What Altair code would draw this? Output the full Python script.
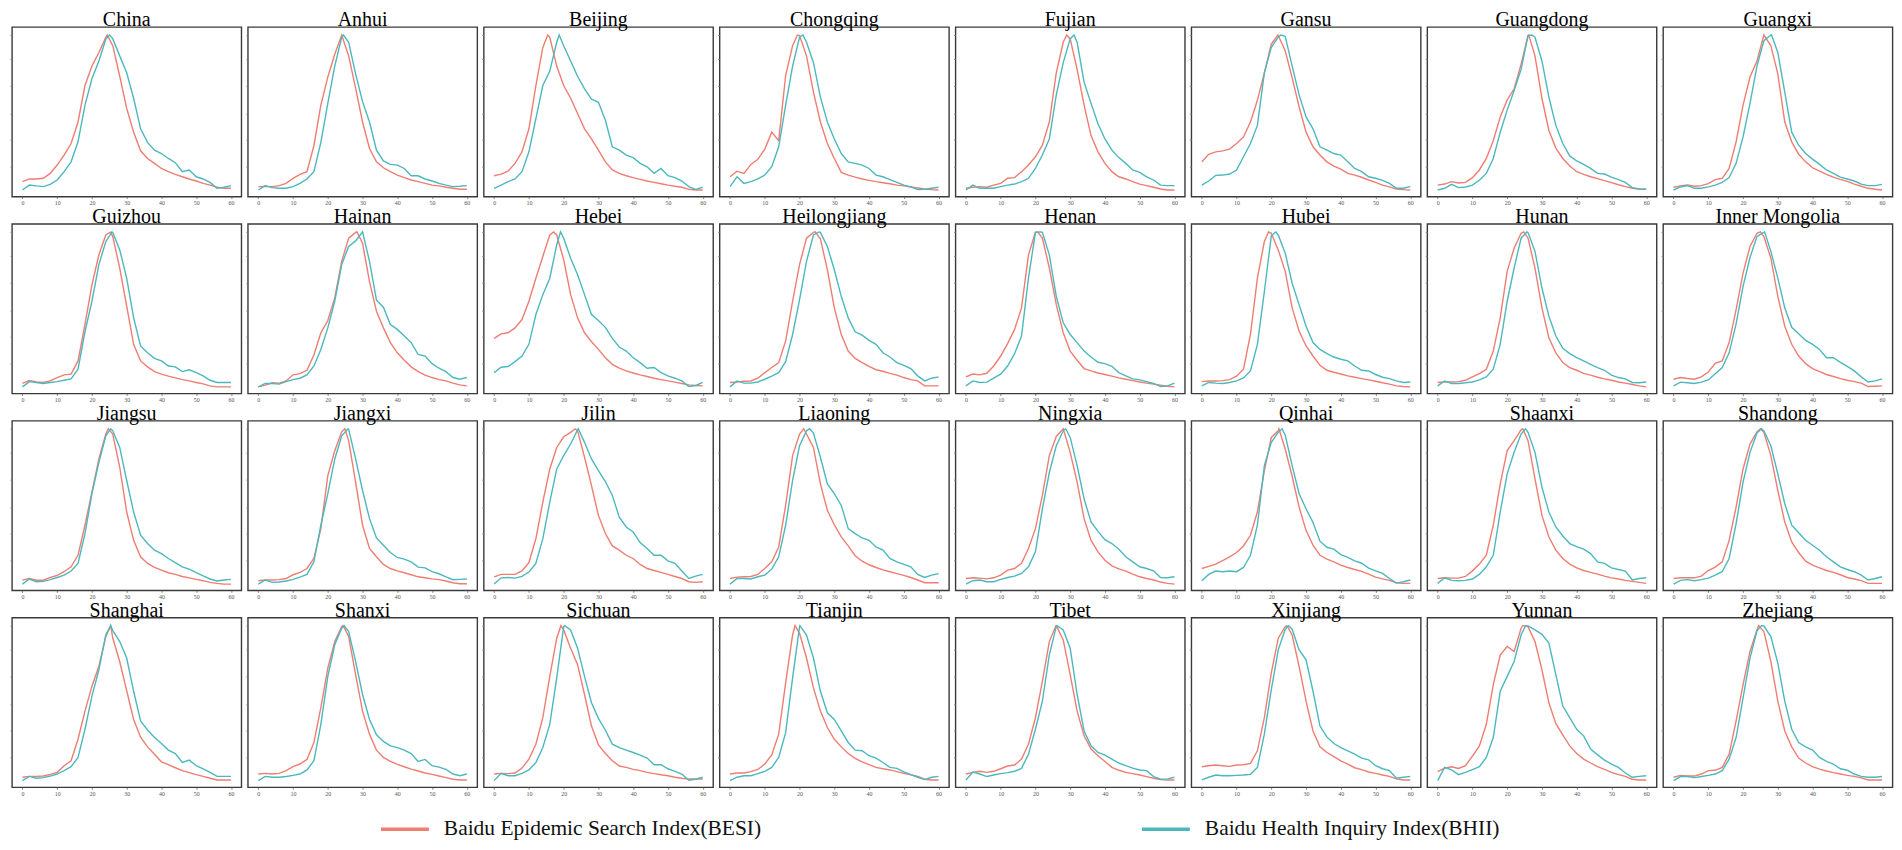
import altair as alt
import pandas as pd

# ---------------- data ----------------
# values are in % of each panel's vertical range; day 0..60 every 2 days
DAYS = list(range(0, 61, 2))
X_TICKS = [0, 10, 20, 30, 40, 50, 60]
Y_TICKS = [17.6, 33.5, 49, 65, 81, 95.3]
PEAK_VALUE = 95.3

BESI_NAME = "Baidu Epidemic Search Index(BESI)"
BHII_NAME = "Baidu Health Inquiry Index(BHII)"
COLORS = ["#EE7D72", "#4BB8BE"]

REGIONS = ["China", "Anhui", "Beijing", "Chongqing", "Fujian", "Gansu", "Guangdong", "Guangxi",
           "Guizhou", "Hainan", "Hebei", "Heilongjiang", "Henan", "Hubei", "Hunan", "Inner Mongolia",
           "Jiangsu", "Jiangxi", "Jilin", "Liaoning", "Ningxia", "Qinhai", "Shaanxi", "Shandong",
           "Shanghai", "Shanxi", "Sichuan", "Tianjin", "Tibet", "Xinjiang", "Yunnan", "Zhejiang"]

BESI_PEAK_DAY = [24.4, 24, 15.4, 19.4, 29, 21.9, 26.2, 26,
                 25.4, 28.4, 17.1, 24.5, 20.6, 19.2, 24.8, 25,
                 24.7, 24.9, 23.3, 21.2, 28, 22.2, 24.5, 25,
                 25.4, 24.4, 19.2, 18.7, 25.9, 24.5, 24.5, 24.5]
BHII_PEAK_DAY = [25.1, 24.5, 18.7, 21, 31.1, 22.8, 27.1, 28.2,
                 25.8, 30, 19.1, 25.6, 21.5, 21.3, 25.7, 26.2,
                 25.4, 25.8, 24.2, 22.9, 28.7, 23.1, 25.3, 25.3,
                 25.4, 24.7, 20.3, 20.1, 26.2, 25, 25.3, 25.3]

CHINA_BESI = [8.8, 10.4, 10.4, 10.8, 13.7, 18.6, 24.5, 31.3, 44, 65.5, 77, 85, 94, 89, 71, 52, 38, 27, 22.5, 19.6, 16.6, 14.7, 13.1, 11.7, 10.4, 9.2, 7.8, 6.8, 5.5, 4.9, 4.9]
CHINA_BHII = [3.9, 6.8, 6.3, 5.9, 7.2, 9.8, 14.7, 20.5, 32.3, 54, 69.5, 80, 93, 93, 83, 73, 58, 40, 32, 27.4, 25.4, 22.5, 20, 14.7, 15.7, 11.7, 10.4, 8.4, 4.9, 5.5, 6.5]
ANHUI_BESI = [5.9, 5.9, 5.9, 6.5, 7.8, 10.8, 13.1, 14.7, 30, 54, 70.5, 84, 95.3, 83, 64, 44, 28.4, 20.5, 17, 14.7, 12.7, 11.2, 9.8, 8.8, 7.8, 6.8, 6.3, 5.5, 4.9, 4.3, 4.3]
ANHUI_BHII = [3.9, 6.5, 5.3, 4.9, 4.9, 5.9, 7.8, 10.4, 14.7, 32, 55, 77, 94, 91, 72.4, 56, 44, 27.4, 21, 19, 18.6, 16.6, 12.3, 12.3, 10.4, 9.2, 7.8, 6.8, 5.9, 6.1, 6.5]
BEIJING_BESI = [12.3, 13.3, 15, 19.6, 26.4, 40, 65.5, 88, 94, 77, 65.5, 58, 49, 40, 34, 27.4, 20.5, 15.7, 13.7, 12.3, 11.2, 10.2, 9.2, 8.4, 7.6, 6.8, 6.1, 5.5, 4.3, 3.9, 3.9]
BEIJING_BHII = [4.9, 6.8, 8.8, 10.4, 14.7, 26.4, 46, 65.5, 74, 91, 89, 80, 71, 63.6, 57.5, 55.6, 45, 29.4, 27.4, 24.5, 23, 19.6, 17.6, 13.7, 16.6, 12.3, 11.2, 9.2, 5.9, 4.3, 5.5]
CHONGQING_BESI = [11.7, 15, 13.7, 19, 22, 28, 38, 33, 71.4, 89, 95, 83, 61.6, 44, 31.3, 22.5, 14.3, 12.7, 11.5, 10.4, 9.6, 8.8, 8.2, 7.6, 6.8, 6.3, 5.7, 5.1, 4.5, 4.1, 3.9]
CHONGQING_BHII = [5.9, 11.7, 7.8, 8.8, 10.4, 12.7, 17.6, 29.4, 54, 77, 94, 91, 79, 58.7, 44, 34, 25.4, 20.5, 19.6, 18.6, 16.6, 12.7, 11.7, 10, 8.4, 6.8, 5.7, 4.1, 4.3, 4.9, 5.5]
FUJIAN_BESI = [4.9, 5.5, 5.9, 5.5, 6.8, 7.8, 10.8, 11.2, 14.7, 18.6, 23.5, 30.3, 44, 73, 91, 93, 75, 54, 36, 26.4, 19.6, 14.7, 11.7, 10.4, 8.8, 7.4, 6.5, 5.5, 4.5, 3.9, 3.9]
FUJIAN_BHII = [3.9, 6.8, 4.9, 4.9, 4.9, 5.9, 6.8, 7.4, 8.8, 10.8, 16.6, 24.5, 34, 60, 79, 93, 91, 67.5, 55, 43, 34, 27.4, 23, 19.6, 15.7, 14.3, 11.7, 9.8, 6.8, 6.5, 6.5]
GANSU_BESI = [20.5, 24.9, 26.4, 27, 28, 31.3, 35.2, 44, 56.8, 73, 90, 95, 86, 70, 53, 38, 29.4, 24.5, 20.5, 18, 16.2, 13.7, 12.7, 11.4, 9.8, 8.4, 6.8, 5.7, 4.5, 4.1, 3.9]
GANSU_BHII = [6.8, 9.2, 12.5, 12.7, 13.3, 15.7, 23.5, 31.3, 42, 73, 88, 94, 94.6, 77, 60, 47, 40, 29.4, 27.4, 25.4, 24.5, 20.5, 16.6, 14.7, 11.7, 10.8, 9.6, 7.8, 4.9, 4.9, 5.9]
GUANGDONG_BESI = [6.8, 7.4, 8.8, 8, 8.4, 11.2, 15.7, 22.5, 33, 47, 57, 63.6, 78, 95, 83, 58, 39, 28.6, 22.5, 18, 14.7, 13.1, 11.7, 10.6, 9.4, 8.2, 7, 5.9, 4.9, 4.5, 4.3]
GUANGDONG_BHII = [3.9, 4.9, 7.2, 5.3, 5.7, 6.8, 9.6, 13.7, 22.5, 38, 51, 62.6, 75, 95, 94, 80, 58.7, 42, 31.3, 24, 21, 19, 16.6, 13.7, 13.3, 11.5, 10, 8.4, 5.3, 4.5, 4.3]
GUANGXI_BESI = [5.5, 6.3, 6.8, 6.1, 6.5, 7.6, 10, 10.8, 16.6, 32.3, 54, 70.5, 80, 95, 89, 72.4, 44, 32.3, 25, 20.5, 17, 15, 13.1, 11.5, 10.2, 9, 7.4, 6.1, 4.9, 4.3, 3.9]
GUANGXI_BHII = [3.9, 5.7, 6.5, 4.9, 4.9, 5.7, 6.8, 8.4, 11.2, 19.6, 35.2, 55, 77, 92, 95.3, 85, 61.6, 38, 30.3, 25.4, 22.1, 19, 15.7, 13.7, 11.5, 10.4, 9.2, 7.4, 6.5, 6.5, 7.2]
GUIZHOU_BESI = [5.9, 7.6, 6.8, 6.5, 7.4, 9.4, 11, 11.4, 19.2, 40.7, 64, 81.8, 93.5, 92.5, 74, 51.5, 29, 19.2, 15.7, 12.9, 11.4, 10.2, 9.2, 8.2, 7.4, 6.5, 5.7, 4.5, 3.9, 3.9, 3.9]
GUIZHOU_BHII = [3.9, 7, 6.5, 5.9, 6.5, 7, 7.8, 8.6, 14.3, 36.4, 54.4, 76, 89.6, 95, 84.7, 68, 44.6, 28, 24, 20.7, 19.2, 16.2, 15.7, 12.9, 14, 12.3, 10.4, 7.8, 6.5, 6.5, 6.5]
HAINAN_BESI = [3.9, 4.9, 6.3, 6.1, 7.4, 11, 11.7, 13.7, 22.7, 35.8, 43, 56.4, 77.9, 91.6, 95, 88.6, 66, 48.5, 38.7, 30, 24, 19.6, 15.7, 12.9, 10.8, 9.4, 8.2, 7.4, 6.1, 5.1, 4.5]
HAINAN_BHII = [3.9, 5.9, 5.9, 5.5, 7, 8.2, 9, 11, 16.2, 26, 38.7, 54.4, 76, 86.7, 90, 94.5, 77.9, 55, 50.9, 40.7, 37.8, 33.9, 30, 23, 22.1, 17.6, 14.9, 12.9, 9.4, 8.4, 9.4]
HEBEI_BESI = [32.5, 35.2, 35.8, 38.7, 43.6, 54.4, 68, 80.8, 93.5, 93.5, 78.9, 58.3, 44.6, 35.8, 30.5, 26, 21.1, 17.2, 14.9, 13.3, 12.1, 11, 10, 9, 8.2, 7.4, 6.7, 5.9, 5.1, 4.7, 4.5]
HEBEI_BHII = [12.3, 15.5, 15.9, 18.8, 22.1, 29, 46.6, 58.3, 68, 87.7, 91.6, 79.8, 70, 58.3, 46.6, 43, 39, 32.5, 27.4, 25, 21.1, 18.2, 14.9, 15.3, 12.3, 10.4, 9, 7.4, 4.1, 4.7, 6.5]
HEILONGJIANG_BESI = [6.5, 6.8, 7.2, 7.4, 9, 12.3, 15.3, 18.2, 31, 54.4, 76, 91.6, 95, 91.2, 73, 50.5, 34.8, 25, 20.7, 18.2, 16, 14, 13.1, 11.9, 10.8, 9.4, 8.2, 7.4, 4.5, 4.5, 4.5]
HEILONGJIANG_BHII = [3.9, 7.4, 6.1, 6.1, 6.8, 8.4, 10.2, 12.3, 18.8, 34.8, 55.4, 77.9, 93.5, 95, 86.7, 73, 57.3, 44.6, 36.4, 34.4, 31.3, 29, 24, 21.5, 18.2, 16.6, 14.7, 10.4, 7.4, 9, 9.8]
HENAN_BESI = [9.8, 11.5, 11, 11.9, 16.2, 22.1, 29.4, 37.8, 50.5, 81.8, 95, 91.6, 74, 52.4, 35.8, 25, 19.6, 14.7, 13.3, 12.1, 11.2, 10.2, 9.2, 8.4, 7.6, 6.8, 6.1, 5.5, 4.9, 4.3, 3.9]
HENAN_BHII = [4.5, 7.4, 6.5, 6.7, 9, 11.4, 16.2, 23.5, 33.9, 68, 95, 95, 81.8, 57.3, 41.7, 34.8, 30, 25, 21.5, 18.4, 17.6, 16, 12.3, 10.4, 8.6, 8, 7, 5.9, 4.1, 4.5, 6.1]
HUBEI_BESI = [7, 7.4, 7.4, 7.6, 8.2, 10.2, 14.3, 34.8, 68, 89.6, 94.5, 84.7, 72, 50.5, 36.8, 28, 22.1, 16.6, 13.7, 12.5, 11.5, 10.4, 9.6, 8.8, 8, 7.2, 6.3, 5.5, 4.5, 4.1, 3.9]
HUBEI_BHII = [4.5, 6.5, 6.1, 5.9, 6.5, 7.4, 9.2, 13.3, 29, 60, 93, 93.5, 82.8, 65, 52.4, 39.7, 30, 26, 23.5, 21.5, 20.2, 19.2, 16.2, 13.7, 13.3, 11.2, 9.6, 8.8, 7.4, 6.5, 6.8]
HUNAN_BESI = [6.5, 6.8, 6.8, 7, 7.8, 9.8, 11.7, 14.3, 25, 44.6, 72, 85.7, 94.5, 91.6, 74, 50.5, 32.9, 24, 18.2, 15.3, 13.7, 11.9, 10.8, 9.6, 8.6, 7.8, 6.8, 6.1, 5.3, 4.5, 3.9]
HUNAN_BHII = [4.5, 7.4, 5.9, 5.9, 6.3, 6.8, 8, 9.8, 14.3, 29, 54.4, 74, 91.6, 95, 83.8, 62.2, 45.6, 33.9, 26.6, 23.5, 21.1, 19.2, 17.2, 15.3, 13.7, 10.8, 9.4, 8.6, 6.5, 6.3, 6.8]
INNER_MONGOLIA_BESI = [8.4, 9.4, 8.8, 8.4, 9.8, 12.7, 17.8, 19.2, 30, 49.5, 71, 86.7, 94.5, 92.5, 79.8, 57.3, 39.7, 29, 22.1, 17.6, 14.7, 12.9, 11.2, 10, 8.8, 7.8, 7, 6.1, 4.1, 4.3, 4.5]
INNER_MONGOLIA_BHII = [4.5, 6.7, 6.3, 5.9, 6.7, 8, 11.7, 15.3, 24, 41.1, 63.2, 80.2, 92.6, 95, 83.8, 68, 50.5, 39, 35.2, 31.3, 29, 26, 21.1, 21.1, 18.4, 16, 13.3, 9.8, 6.8, 7.4, 8.6]
JIANGSU_BESI = [6, 7, 6, 6, 7.6, 8.8, 11, 13.9, 20.7, 38.4, 58, 77.5, 92.2, 92.2, 72.6, 46.2, 29.5, 19.8, 15.9, 13.5, 11.9, 10.4, 9.4, 8.2, 7.4, 6.5, 5.7, 4.7, 4.1, 3.7, 3.7]
JIANGSU_BHII = [3.7, 6.7, 5.1, 5.3, 6.3, 7.6, 9, 11.4, 15.9, 33.5, 57, 75.5, 91.2, 94.1, 84.3, 64.8, 46.2, 32.5, 27.6, 23.7, 21.7, 18.8, 16.4, 13.9, 12.5, 10.4, 8.6, 6.7, 5.5, 6.1, 6.5]
JIANGXI_BESI = [5.7, 6.1, 6.1, 6.3, 7, 9.2, 10.6, 12.9, 18.8, 36.4, 67.7, 82.4, 93.5, 88.3, 63.8, 38.4, 24.7, 19.8, 15.3, 12.9, 11.5, 10.4, 9.2, 8, 7.4, 6.8, 6.3, 5.5, 4.5, 3.9, 3.9]
JIANGXI_BHII = [3.7, 6.1, 4.7, 4.9, 5.5, 6.5, 7.8, 9.4, 16.8, 38.4, 57, 77.5, 91.2, 95.1, 77.5, 58.9, 42.3, 30.9, 26.6, 22.3, 19.4, 18.4, 16.8, 13.7, 13.3, 11, 9.8, 8, 6.3, 6.5, 6.7]
JILIN_BESI = [8, 9.4, 9.4, 9.4, 11.5, 16.4, 30.5, 52, 71.6, 84.3, 90.6, 93.2, 94.1, 78.5, 61.8, 44.2, 33.5, 26.2, 23.7, 20.7, 18.8, 15.3, 12.9, 11.7, 10.6, 9.4, 8.2, 7, 5.1, 4.7, 5.1]
JILIN_BHII = [3.7, 7.4, 7.6, 7.2, 8.2, 10.8, 15.9, 30.5, 52, 71.6, 79.5, 86.3, 94.7, 87.3, 77.5, 70.6, 64.2, 56, 43.2, 37.4, 34.4, 28.2, 24.7, 20.7, 20.7, 17.4, 16, 11.4, 7, 8.4, 9.4]
LIAONING_BESI = [7, 7.8, 8, 8.2, 9.4, 12.9, 16.8, 25.6, 50.1, 79.5, 92.2, 92.2, 84.3, 62.8, 47.2, 38.7, 31.5, 26.2, 20.4, 17.2, 15.1, 13.5, 12.1, 11, 9.9, 8.8, 7.6, 6.1, 4.5, 4.5, 4.5]
LIAONING_BHII = [3.7, 7, 7, 6.7, 8, 9, 12.5, 19.8, 38.4, 64.8, 85.3, 94.1, 92.8, 78.5, 62.8, 57, 50.1, 36.4, 33.5, 30.9, 29.5, 25.6, 23.7, 18.8, 16.8, 15.3, 13.9, 9.4, 7.6, 9, 9.9]
NINGXIA_BESI = [7, 7.4, 7.2, 6.8, 7.4, 9, 11.9, 12.9, 15.9, 24.7, 36.4, 56, 79.5, 90.8, 95.1, 81.4, 63.8, 42.3, 29.5, 22.7, 17.8, 14.5, 12.7, 11.4, 9.6, 8, 7, 6.1, 4.9, 4.1, 3.7]
NINGXIA_BHII = [3.7, 5.7, 6.1, 5.1, 5.1, 6.5, 7.6, 8.4, 10, 13.9, 22.7, 48.1, 69.5, 85.3, 94.1, 90.2, 73.6, 54, 40.3, 34.8, 29.9, 27.6, 24.3, 19.8, 16.8, 13.9, 12.9, 11.5, 7.6, 7.4, 8]
QINHAI_BESI = [12.9, 14.1, 15.5, 17.6, 19.8, 22.3, 26.2, 32.5, 46.2, 70.6, 90.2, 94.1, 83.4, 67.3, 49.1, 35.4, 26.6, 20.7, 18.4, 16.8, 14.9, 13.5, 12.3, 11.2, 9.6, 7.8, 6.8, 5.9, 4.5, 4.1, 4.1]
QINHAI_BHII = [5.7, 9.4, 11.4, 11, 11.4, 11, 13.5, 20.7, 38.4, 73.6, 87.3, 93.2, 91.6, 73.6, 57, 48.1, 40, 29, 25.4, 24.3, 21.1, 19.4, 17.4, 16, 13.1, 11.5, 10, 7, 4.3, 5.1, 6.1]
SHAANXI_BESI = [7, 7.4, 7.2, 7.2, 8.2, 11.5, 15.5, 20.7, 38.4, 62.8, 82.4, 88.3, 94.7, 88.3, 65.8, 44.2, 31.5, 23.7, 18.8, 15.5, 13.3, 11.7, 10.6, 9.6, 8.4, 7.4, 6.7, 5.9, 5.3, 4.7, 4.1]
SHAANXI_BHII = [4.1, 7.4, 5.9, 5.7, 5.9, 6.7, 9.4, 13.9, 20.7, 46.2, 68.7, 81.4, 92.2, 93.2, 81.4, 60.9, 46.2, 37.4, 32.1, 27.6, 25.8, 24.3, 21.7, 16.8, 15.9, 13.3, 12.3, 11.4, 6.1, 7, 7.4]
SHANDONG_BESI = [7, 7.4, 7.4, 7.4, 8.4, 11.7, 13.7, 16.8, 29.5, 49.1, 71.6, 86.3, 93.5, 93.2, 79.5, 58.9, 40.3, 28.6, 22.3, 17.2, 14.9, 13.3, 11.7, 10.6, 9.2, 7.6, 6.7, 5.7, 4.1, 4.1, 4.1]
SHANDONG_BHII = [3.7, 5.9, 6.3, 5.7, 6.3, 7.2, 9, 11, 18.8, 39.3, 63.8, 81.4, 92.8, 94.1, 85.3, 68.7, 51.1, 38.4, 34, 29.5, 26.6, 23.7, 19.8, 16.8, 13.9, 12.3, 11, 9, 6.1, 7, 8]
SHANGHAI_BESI = [5.9, 6.4, 6.4, 6.6, 7.6, 8.8, 12.7, 15.6, 28.3, 44.9, 59.6, 71.3, 89, 88, 74, 57, 40, 29.5, 23.8, 19.5, 15, 13.3, 11.5, 9.8, 8.6, 7.4, 6.4, 5.3, 4.3, 4.3, 4.3]
SHANGHAI_BHII = [3.9, 6.4, 5.3, 5.7, 6.6, 7.8, 9.8, 12.1, 17.6, 34.2, 53.7, 69.3, 90, 92.4, 85.9, 76.2, 56.6, 39.1, 33.8, 29.3, 25.8, 21.9, 19.9, 14.6, 16, 12.7, 10.9, 8.8, 6.4, 6.4, 6.4]
SHANXI_BESI = [7.8, 8.2, 7.8, 8.2, 9.8, 12.1, 13.7, 16.4, 26.4, 46.9, 70.3, 85.9, 94.7, 88.9, 66.4, 44.9, 31.3, 21.9, 17.6, 15.2, 13.5, 12.1, 10.7, 9.6, 8.4, 7.6, 6.6, 5.7, 4.7, 4.3, 4.3]
SHANXI_BHII = [3.9, 6.4, 5.9, 5.9, 6.3, 7, 7.8, 10.2, 15.6, 37.1, 65.4, 84, 93.8, 91.8, 74.2, 54.7, 40, 30.9, 27, 24.4, 23.4, 21.9, 19.9, 15.2, 16.4, 12.7, 11.9, 10.5, 7.8, 6.8, 7.8]
SICHUAN_BESI = [7.8, 8.2, 8, 8.4, 11.3, 16.6, 25.4, 41, 65.4, 87.9, 92.8, 82, 72.3, 54.7, 36.1, 25, 19.9, 15.6, 12.5, 11.7, 10.5, 9.8, 8.8, 8, 7.4, 6.8, 5.9, 5.3, 4.9, 4.9, 4.9]
SICHUAN_BHII = [3.9, 8.2, 6.8, 6.8, 8.2, 10.2, 14.6, 23.4, 37.1, 64.5, 94.7, 92.8, 82, 65.4, 49.8, 40.6, 33.6, 25.4, 23.4, 21.9, 20.5, 18.9, 17.2, 13.3, 13.3, 10.9, 9.4, 7.8, 4.1, 4.7, 5.9]
TIANJIN_BESI = [7.8, 8.4, 8.4, 9.2, 10.5, 13.7, 19.1, 31.3, 61.5, 89.8, 90.8, 76.2, 58.6, 44.9, 35.2, 28.3, 23.8, 19.9, 17, 15, 13.3, 11.7, 10.9, 10.2, 9.2, 8.2, 7.4, 6.4, 4.7, 4.3, 4.3]
TIANJIN_BHII = [3.9, 5.9, 6.8, 6.8, 8, 9.4, 11.7, 17.6, 32.2, 64.5, 94.7, 89.8, 76.2, 56.6, 43.9, 40, 33.2, 26.4, 21.9, 21.5, 18.6, 17.2, 14.6, 11.7, 11.1, 9, 7.4, 5.9, 4.5, 5.9, 6.4]
TIBET_BESI = [7.8, 8.8, 9.4, 8.8, 9.4, 10.9, 12.5, 13.1, 16.6, 25.4, 41, 62.5, 85.9, 95.3, 86.9, 66.4, 44.9, 30.3, 22.5, 18.6, 15.2, 11.7, 10, 8.8, 8, 7.2, 6.3, 5.3, 4.5, 4.3, 4.3]
TIBET_BHII = [4.3, 9, 7.8, 6.3, 7.2, 8, 8.6, 9.4, 11.1, 19.5, 34.2, 50.8, 78.1, 94.7, 92.8, 82, 54.7, 33.2, 24.4, 20.5, 18.9, 16.6, 14.3, 12.7, 11.3, 10.2, 9.8, 6.3, 4.7, 4.9, 5.9]
XINJIANG_BESI = [12.1, 12.7, 13.1, 12.7, 12.3, 13.1, 13.3, 14.1, 21.5, 41, 67.4, 87.9, 94.7, 89.8, 71.3, 50.8, 33.2, 23.8, 20.5, 18, 15.6, 13.7, 11.5, 10.4, 9, 8.2, 7.2, 6.4, 4.9, 4.3, 4.3]
XINJIANG_BHII = [4.3, 5.9, 7.2, 6.8, 6.8, 7, 7.2, 7.6, 11.7, 31.3, 57.6, 81, 93.2, 93.2, 81, 75.2, 56.6, 36.1, 29.7, 25.8, 23.4, 21.5, 19.5, 17.2, 16.2, 12.7, 10.9, 9.8, 5.3, 5.9, 6.4]
YUNNAN_BESI = [9.2, 11.3, 12.1, 11.1, 12.7, 18.4, 24.4, 37.1, 60.5, 78, 83, 80, 93.8, 94.7, 85.9, 69.3, 49.8, 37.5, 30.9, 24.4, 19.9, 16.6, 14.3, 12.1, 10.5, 8.8, 7.4, 6.4, 4.7, 4.3, 4.3]
YUNNAN_BHII = [3.9, 11.7, 10.2, 7.4, 8.8, 10.4, 12.1, 17.6, 29.3, 56.6, 65.4, 74.2, 89.8, 95.1, 92.8, 90.2, 85, 66.4, 47.9, 41, 34.2, 30.3, 22.5, 19.1, 16, 13.7, 11.7, 8.4, 5.9, 6.4, 6.8]
ZHEJIANG_BESI = [5.9, 7, 6.6, 6.6, 7.8, 9.8, 10, 11.7, 19.5, 39.1, 60.5, 80.1, 92.8, 91.8, 74.2, 50.8, 33.2, 23.8, 17.2, 14.3, 12.1, 10.7, 9.6, 8.6, 7.8, 7, 6.4, 5.5, 4.3, 4.3, 4.3]
ZHEJIANG_BHII = [3.9, 6.3, 6.3, 5.7, 6.3, 7, 7.8, 9.8, 16.6, 29.3, 52.7, 76.2, 92.2, 95.1, 88.9, 73.2, 50.8, 34.2, 26.4, 23.8, 21.9, 17.6, 15.2, 13.7, 10.9, 10, 7.8, 6.4, 5.9, 5.9, 6.3]

BESI_SERIES = [CHINA_BESI, ANHUI_BESI, BEIJING_BESI, CHONGQING_BESI, FUJIAN_BESI, GANSU_BESI,
               GUANGDONG_BESI, GUANGXI_BESI, GUIZHOU_BESI, HAINAN_BESI, HEBEI_BESI, HEILONGJIANG_BESI,
               HENAN_BESI, HUBEI_BESI, HUNAN_BESI, INNER_MONGOLIA_BESI, JIANGSU_BESI, JIANGXI_BESI,
               JILIN_BESI, LIAONING_BESI, NINGXIA_BESI, QINHAI_BESI, SHAANXI_BESI, SHANDONG_BESI,
               SHANGHAI_BESI, SHANXI_BESI, SICHUAN_BESI, TIANJIN_BESI, TIBET_BESI, XINJIANG_BESI,
               YUNNAN_BESI, ZHEJIANG_BESI]
BHII_SERIES = [CHINA_BHII, ANHUI_BHII, BEIJING_BHII, CHONGQING_BHII, FUJIAN_BHII, GANSU_BHII,
               GUANGDONG_BHII, GUANGXI_BHII, GUIZHOU_BHII, HAINAN_BHII, HEBEI_BHII, HEILONGJIANG_BHII,
               HENAN_BHII, HUBEI_BHII, HUNAN_BHII, INNER_MONGOLIA_BHII, JIANGSU_BHII, JIANGXI_BHII,
               JILIN_BHII, LIAONING_BHII, NINGXIA_BHII, QINHAI_BHII, SHAANXI_BHII, SHANDONG_BHII,
               SHANGHAI_BHII, SHANXI_BHII, SICHUAN_BHII, TIANJIN_BHII, TIBET_BHII, XINJIANG_BHII,
               YUNNAN_BHII, ZHEJIANG_BHII]

# ---------------- long table ----------------
rows = []
for region, besi, bhii, pb, ph in zip(REGIONS, BESI_SERIES, BHII_SERIES, BESI_PEAK_DAY, BHII_PEAK_DAY):
    for name, vals, pk in ((BESI_NAME, besi, pb), (BHII_NAME, bhii, ph)):
        pts = dict(zip(DAYS, vals))
        pts[pk] = PEAK_VALUE
        for d in sorted(pts):
            rows.append({"region": region, "series": name, "day": d, "value": pts[d]})
df = pd.DataFrame(rows)

SERIF = "Liberation Serif"

color = alt.Color(
    "series:N",
    scale=alt.Scale(domain=[BESI_NAME, BHII_NAME], range=COLORS),
    legend=alt.Legend(
        title=None, orient="none", legendX=368, legendY=778, direction="horizontal",
        symbolType="stroke", symbolSize=2304, symbolStrokeWidth=3.5,
        labelFont=SERIF, labelFontSize=21.5, labelColor="#111", labelOffset=13,
        labelLimit=600, columnPadding=374, padding=0,
    ),
)


def panel(region):
    return (
        alt.Chart(df)
        .transform_filter(alt.datum.region == region)
        .mark_line(strokeWidth=1.4)
        .encode(
            x=alt.X("day:Q", scale=alt.Scale(domain=[-3, 63], nice=False, zero=False),
                    axis=alt.Axis(values=X_TICKS, title=None, grid=False, domain=False,
                                  tickSize=2, tickColor="#666", tickWidth=0.8,
                                  labelFontSize=6, labelColor="#555", labelPadding=1,
                                  labelFont=SERIF)),
            y=alt.Y("value:Q", scale=alt.Scale(domain=[0, 100], nice=False, zero=False),
                    axis=alt.Axis(values=Y_TICKS, title=None, grid=False, domain=False,
                                  labels=False, tickSize=2, tickColor="#777", tickWidth=0.8)),
            color=color,
        )
        .properties(
            width=230, height=170,
            title=alt.TitleParams(region, font=SERIF, fontSize=20, fontWeight="normal",
                                  color="black", offset=0, dy=3),
        )
    )


chart = (
    alt.concat(*[panel(r) for r in REGIONS], columns=8,
               spacing={"row": 27.4, "column": 6.5}, bounds="flush")
    .resolve_scale(color="shared")
    .properties(padding=0)
    .configure_view(stroke="#3a3a3a", strokeWidth=1.4)
)

chart.save("out.html", embed_options={"renderer": "svg", "actions": False})
